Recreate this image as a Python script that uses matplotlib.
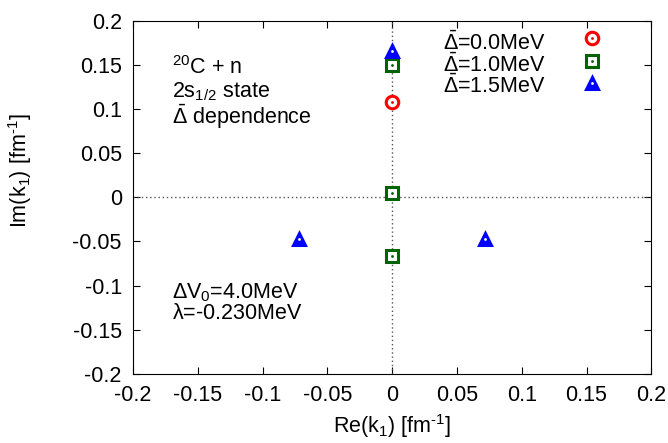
import matplotlib
matplotlib.use('Agg')
import matplotlib.pyplot as plt

plt.rcParams['font.family'] = ['Liberation Sans', 'DejaVu Sans']
plt.rcParams['mathtext.fontset'] = 'custom'
plt.rcParams['mathtext.rm'] = 'Liberation Sans'
plt.rcParams['mathtext.it'] = 'Liberation Sans'
plt.rcParams['mathtext.bf'] = 'Liberation Sans'

# poles for each Delta-bar value
re_d00 = [0.0]
im_d00 = [0.108]
re_d10 = [0.0, 0.0, 0.0]
im_d10 = [0.150, 0.005, -0.067]
re_d15 = [0.0, -0.072, 0.072]
im_d15 = [0.166, -0.047, -0.047]

labels = [r'$\mathregular{\bar{\Delta}}$=0.0MeV',
          r'$\mathregular{\bar{\Delta}}$=1.0MeV',
          r'$\mathregular{\bar{\Delta}}$=1.5MeV']

ticks = [-0.2, -0.15, -0.1, -0.05, 0, 0.05, 0.1, 0.15, 0.2]
tick_labels = ['-0.2', '-0.15', '-0.1', '-0.05', '0', '0.05', '0.1', '0.15', '0.2']

fig = plt.figure(figsize=(6.68, 4.43), dpi=100)
ax = fig.add_axes([0.199, 0.156, 0.776, 0.797])

ax.axvline(0, color='#555555', ls=(0, (1, 2)), lw=1)
ax.axhline(0, color='#555555', ls=(0, (1, 2)), lw=1)

fs = 15.5

def draw(xs, ys, marker, color, size, fill):
	ax.plot(xs, ys, ls='none', marker=marker, ms=size, mec=color,
	        mfc=color if fill else 'white', mew=2.2, zorder=3)
	ax.plot(xs, ys, ls='none', marker='o', ms=2,
	        mfc='white' if fill else color, mec='none', zorder=4)

draw(re_d00, im_d00, 'o', '#ff0000', 9, False)
draw(re_d10, im_d10, 's', '#006400', 9, False)
draw(re_d15, im_d15, '^', '#0000ff', 8.5, True)

# legend by hand, gnuplot style
leg_marker_y = [0.181, 0.154, 0.130]
leg_text_y = [0.174, 0.150, 0.126]
markers = [('o', '#ff0000', 9, False), ('s', '#006400', 9, False), ('^', '#0000ff', 8.5, True)]
for lab, ty, my, m in zip(labels, leg_text_y, leg_marker_y, markers):
	ax.text(0.1185, ty, lab, ha='right', va='center', fontsize=fs)
	draw([0.154], [my], *m)

tx = 0.075
ax.text(tx, 0.867, r'$\mathregular{^{20}}$C + n', transform=ax.transAxes, fontsize=fs, va='center')
ax.text(tx, 0.799, r'2s$\mathregular{_{1/2}}$ state', transform=ax.transAxes, fontsize=fs, va='center')
ax.text(tx, 0.728, r'$\mathregular{\bar{\Delta}}$ dependence', transform=ax.transAxes, fontsize=fs, va='center')
ax.text(tx, 0.230, r'$\mathregular{\Delta V_0}$=4.0MeV', transform=ax.transAxes, fontsize=fs, va='center')
ax.text(tx, 0.170, r'$\mathregular{\lambda}$=-0.230MeV', transform=ax.transAxes, fontsize=fs, va='center')

ax.set_xlim(-0.2, 0.2)
ax.set_ylim(-0.2, 0.2)
ax.set_xticks(ticks)
ax.set_xticklabels(tick_labels)
ax.set_yticks(ticks)
ax.set_yticklabels(tick_labels)
ax.tick_params(direction='in', top=True, right=True, labelsize=fs, length=5, pad=8)
ax.set_xlabel('Re(k$\\mathregular{_1}$) [fm$\\mathregular{^{\u20101}}$]', fontsize=fs)
ax.set_ylabel('Im(k$\\mathregular{_1}$) [fm$\\mathregular{^{\u20101}}$]', fontsize=fs)
ax.xaxis.set_label_coords(0.5, -0.108)
ax.yaxis.set_label_coords(-0.19, 0.575)

fig.savefig('out.png', dpi=100)
